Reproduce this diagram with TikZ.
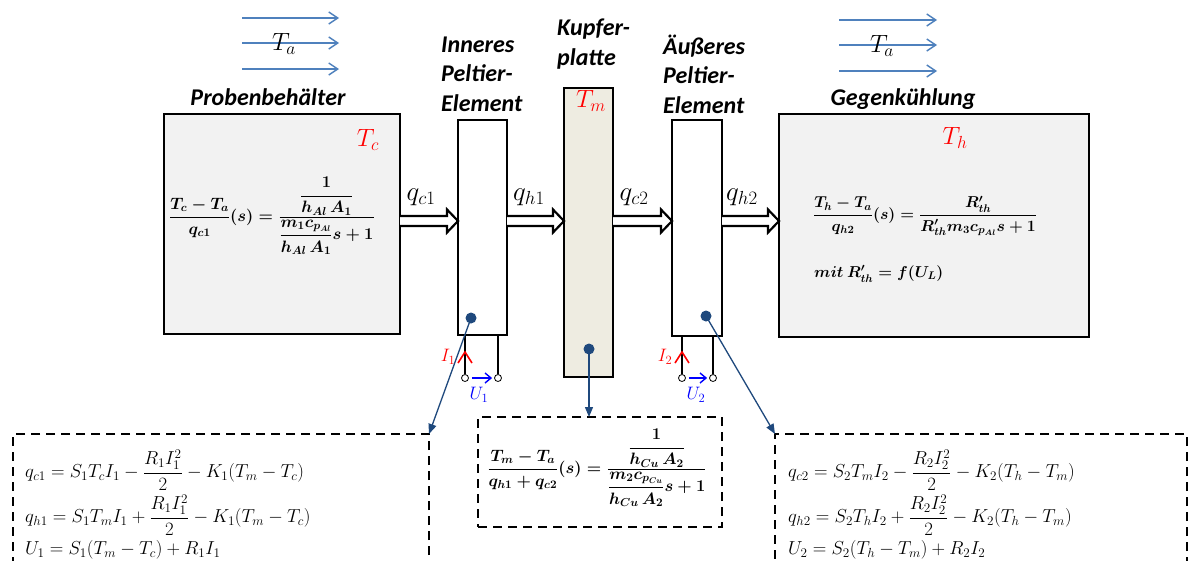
\RequirePackage{fix-cm}
\documentclass[tikz,border=0pt]{standalone}
\usepackage{amsmath}
\usepackage{fontspec}
\setmainfont{Carlito}
\usetikzlibrary{arrows.meta,calc}
\definecolor{navyc}{RGB}{31,73,125}
\definecolor{steelc}{RGB}{79,129,189}
\definecolor{boxgray}{RGB}{242,242,242}
\definecolor{cubeige}{RGB}{238,236,225}
\newcommand\harrow[2]{%
  \coordinate (hs) at (#1.east |- ay);
  \coordinate (he) at (#2.west |- ay);
  \draw[hollowarr] ($(hs)+(0,-5)$) -- ($(he)+(-11,-5)$) -- ($(he)+(-11,-11.5)$) -- (he)
    -- ($(he)+(-11,11.5)$) -- ($(he)+(-11,5)$) -- ($(hs)+(0,5)$);}
\begin{document}
\begin{tikzpicture}[x=1pt,y=-1pt,
  box/.style={draw, line width=2.6pt, inner sep=0pt, outer sep=0pt},
  dbox/.style={draw, dash pattern=on 9pt off 6pt, line width=2.2pt, inner sep=0pt, outer sep=0pt},
  lbl/.style={font=\fontsize{24}{29.5}\selectfont\bfseries\itshape, inner sep=0pt, align=left},
  hollowarr/.style={draw, fill=white, line width=2.2pt, line join=miter},
  taarr/.style={steelc, line width=1.4pt, -{Straight Barb[length=9pt,width=12pt,line width=1.4pt]}},
  conn/.style={navyc, line width=1.3pt, -{Triangle[length=10pt,width=8pt]}},
  term/.style={circle, draw, fill=white, inner sep=0pt, minimum size=7pt, line width=0.8pt},
  tvar/.style={font=\fontsize{25}{30}\selectfont, inner sep=0pt},
  qvar/.style={font=\fontsize{27}{30}\selectfont, inner sep=0pt},
  beq/.style={font=\fontsize{16.5}{20}\selectfont\boldmath, inner sep=0pt},
  beqs/.style={font=\fontsize{15.8}{19}\selectfont\boldmath, inner sep=0pt},
  leq/.style={font=\fontsize{18.8}{23}\selectfont, inner sep=0pt, anchor=west},
  ivar/.style={font=\fontsize{18}{22}\selectfont, inner sep=0pt}
]
\useasboundingbox (0,0) rectangle (1189,560);
\clip (0,0) rectangle (1189,560);
\fill[white] (0,0) rectangle (1189,560);

% main boxes
\node[box, fill=boxgray, minimum width=236pt, minimum height=220pt] (pb) at (282,224) {};
\node[box, fill=white, minimum width=49pt, minimum height=215pt] (ip) at (482.5,227.5) {};
\node[box, fill=cubeige, minimum width=49pt, minimum height=289pt] (kp) at (588.5,232.5) {};
\node[box, fill=white, minimum width=50pt, minimum height=216pt] (op) at (697,228) {};
\node[box, fill=boxgray, minimum width=310pt, minimum height=223pt] (gk) at (934,225.5) {};

% dashed boxes
\node[dbox, minimum width=416pt, minimum height=170pt, anchor=north west] (lb) at (13,434) {};
\node[dbox, minimum width=244pt, minimum height=110pt, anchor=north west] (mb) at (478,417) {};
\node[dbox, minimum width=412pt, minimum height=170pt, anchor=north west] (rb) at (775,434) {};

% heat flow arrows
\coordinate (ay) at (0,221);
\harrow{pb}{ip}
\harrow{ip}{kp}
\harrow{kp}{op}
\harrow{op}{gk}
\node[qvar] (qc1) at (421,197) {$q_{c1}$};
\node[qvar] (qh1) at (529,197) {$q_{h1}$};
\node[qvar] (qc2) at (634,197) {$q_{c2}$};
\node[qvar] (qh2) at (742,197) {$q_{h2}$};

% ambient arrows
\foreach \yy [count=\i] in {18,43,69} {
  \coordinate (tal\i s) at (242,\yy); \coordinate (tal\i e) at (339,\yy);
  \draw[taarr] (tal\i s) -- (tal\i e);}
\foreach \yy [count=\i] in {20,45,71} {
  \coordinate (tar\i s) at (839,\yy); \coordinate (tar\i e) at (937,\yy);
  \draw[taarr] (tar\i s) -- (tar\i e);}
\node[tvar] (tal) at (284,44) {$T_a$};
\node[tvar] (tar) at (882,46) {$T_a$};

% titles
\node[lbl] (pbl) at (268,97) {Probenbehälter};
\node[lbl, anchor=west] (ipl) at (441,74) {Inneres\\Peltier-\\Element};
\node[lbl, anchor=west] (kpl) at (557,44) {Kupfer-\\platte};
\node[lbl, anchor=west] (opl) at (663,74) {Äußeres\\Peltier-\\Element};
\node[lbl] (gkl) at (903,99) {Gegenkühlung};

% temperatures
\node[tvar, red] (tc) at (368,140) {$T_c$};
\node[tvar, red] (tm) at (591,101) {$T_m$};
\node[tvar, red] (th) at (955,138) {$T_h$};

% equations in boxes
\node[beq] (eqc) at (272,216) {$\dfrac{T_c - T_a}{q_{c1}}(s) = \dfrac{\dfrac{1}{h_{Al}\,A_1}}{\dfrac{m_1 c_{p_{Al}}}{h_{Al}\,A_1}s+1}$};
\node[beqs] (eqh) at (925,216) {$\dfrac{T_h - T_a}{q_{h2}}(s) = \dfrac{R'_{th}}{R'_{th} m_3 c_{p_{Al}} s+1}$};
\node[beqs, anchor=west] (mit) at (814,274) {$mit\ R'_{th} = f(U_L)$};
\node[beq] (eqm) at (597,468) {$\dfrac{T_m - T_a}{q_{h1}+q_{c2}}(s) = \dfrac{\dfrac{1}{h_{Cu}\,A_2}}{\dfrac{m_2 c_{p_{Cu}}}{h_{Cu}\,A_2}s+1}$};

% Peltier terminals
\node[term] (t1a) at (465,378) {};
\node[term] (t1b) at (498,378) {};
\node[term] (t2a) at (682,378) {};
\node[term] (t2b) at (713,378) {};
\foreach \t/\b in {t1a/ip, t1b/ip, t2a/op, t2b/op}
  \draw[line width=1.1pt] (\t |- \b.south) -- (\t.north);
\foreach \t in {t1a, t2a}
  \draw[red, line width=1.6pt] ($(\t)+(-7,-15)$) -- ($(\t)+(0,-26)$) -- ($(\t)+(7,-15)$);
\draw[blue, line width=1.4pt, -{Straight Barb[length=6pt,width=10pt,line width=1.4pt]}] ($(t1a.east)+(3,0)$) -- ($(t1b.west)+(-2,0)$);
\draw[blue, line width=1.4pt, -{Straight Barb[length=6pt,width=10pt,line width=1.4pt]}] ($(t2a.east)+(3,0)$) -- ($(t2b.west)+(-2,0)$);
\node[ivar, red] (i1) at (448,357) {$I_1$};
\node[ivar, red] (i2) at (665,357) {$I_2$};
\node[ivar, blue] (u1) at (479,395) {$U_1$};
\node[ivar, blue] (u2) at (696,395) {$U_2$};

% connectors
\coordinate (id) at (471,318);
\coordinate (kd) at (589,349);
\coordinate (od) at (706,316);
\draw[conn] (id) -- (lb.north east);
\draw[conn] (kd) -- (kd |- mb.north);
\draw[conn] (od) -- (rb.north west);
\foreach \d in {id,kd,od} \fill[navyc] (\d) circle (5.5);

% lower equations
\node[leq] (l1) at (25,470) {$q_{c1} = S_1 T_c I_1 - \dfrac{R_1 I_1^2}{2} - K_1(T_m - T_c)$};
\node[leq] (l2) at (25,515) {$q_{h1} = S_1 T_m I_1 + \dfrac{R_1 I_1^2}{2} - K_1(T_m - T_c)$};
\node[leq] (l3) at (25,550) {$U_1 = S_1(T_m - T_c) + R_1 I_1$};
\node[leq] (r1) at (788,470) {$q_{c2} = S_2 T_m I_2 - \dfrac{R_2 I_2^2}{2} - K_2(T_h - T_m)$};
\node[leq] (r2) at (788,515) {$q_{h2} = S_2 T_h I_2 + \dfrac{R_2 I_2^2}{2} - K_2(T_h - T_m)$};
\node[leq] (r3) at (788,550) {$U_2 = S_2(T_h - T_m) + R_2 I_2$};
\end{tikzpicture}
\end{document}
